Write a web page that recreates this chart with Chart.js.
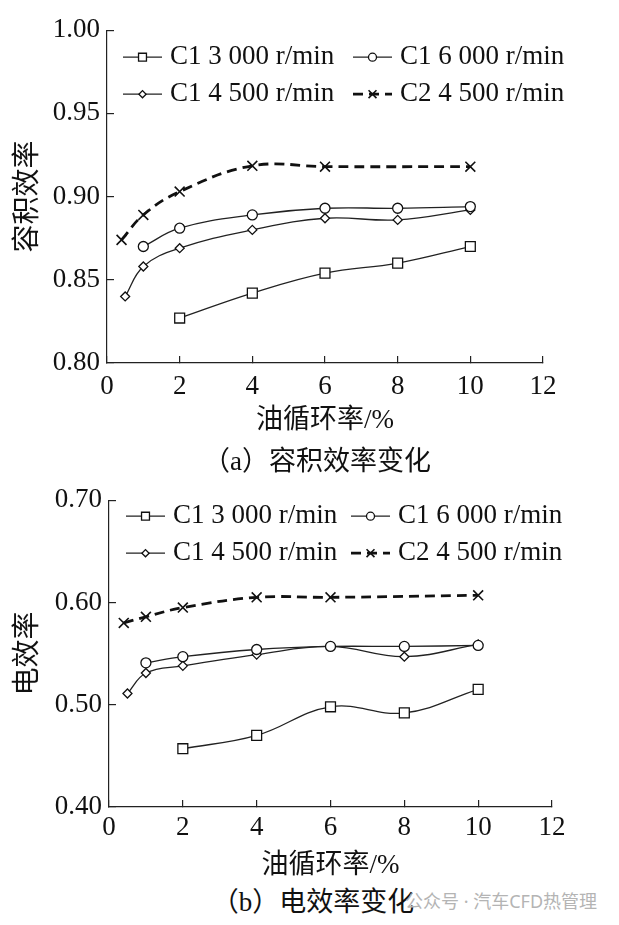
<!DOCTYPE html>
<html>
<head>
<meta charset="utf-8">
<script src="https://cdn.jsdelivr.net/npm/chart.js@4.4.1/dist/chart.umd.min.js"></script>
<style>
  body { margin: 0; background: #fff; }
  #page { position: relative; width: 619px; height: 925px; overflow: hidden; background: #fff; }
  #page canvas { position: absolute; left: 0; }
  .caption {
    position: absolute; left: 0; text-align: center; white-space: nowrap;
    font-family: 'Liberation Serif', 'Noto Sans CJK SC', serif;
    font-size: 27px; line-height: 32px; color: #111;
  }
  .mark {
    position: absolute; white-space: nowrap;
    font-family: 'Noto Sans', 'Noto Sans CJK SC', sans-serif;
    font-size: 18px; line-height: 28px; color: #b4b4b4;
  }
</style>
</head>
<body>
<div id="page">
  <canvas id="volChart" width="619" height="440" style="top:0px"></canvas>
  <canvas id="elecChart" width="619" height="415" style="top:470px"></canvas>
  <div class="caption" style="top:445px; width:634px;">（a）容积效率变化</div>
  <div class="caption" style="top:886px; width:626px;">（b）电效率变化</div>
  <div class="mark" style="left:405px; top:887px;">公众号 · 汽车CFD热管理</div>
</div>
<script>
// series labels
const seriesLabels = ['C1 3 000 r/min', 'C1 6 000 r/min', 'C1 4 500 r/min', 'C2 4 500 r/min'];

// oil circulation rate (%) for each series
const xC1_3000 = [2, 4, 6, 8, 10];
const xC1_6000 = [1, 2, 4, 6, 8, 10];
const xC1_4500 = [0.5, 1, 2, 4, 6, 8, 10];
const xC2_4500 = [0.4, 1, 2, 4, 6, 10];

// (a) volumetric efficiency
const volC1_3000 = [0.827, 0.842, 0.854, 0.860, 0.870];
const volC1_6000 = [0.870, 0.881, 0.889, 0.893, 0.893, 0.894];
const volC1_4500 = [0.840, 0.858, 0.869, 0.880, 0.887, 0.886, 0.892];
const volC2_4500 = [0.874, 0.889, 0.903, 0.9185, 0.918, 0.918];

// (b) electrical efficiency
const elecC1_3000 = [0.457, 0.470, 0.498, 0.492, 0.515];
const elecC1_6000 = [0.541, 0.547, 0.554, 0.557, 0.557, 0.558];
const elecC1_4500 = [0.511, 0.531, 0.538, 0.549, 0.557, 0.547, 0.559];
const elecC2_4500 = [0.580, 0.586, 0.595, 0.605, 0.605, 0.607];

const xTicks = [0, 2, 4, 6, 8, 10, 12];

const serif = "'Liberation Serif', serif";
const cjk = "'Liberation Serif', 'Noto Sans CJK SC', sans-serif";

function pts(xs, ys) {
  return xs.map((x, i) => ({ x: x, y: ys[i] }));
}

// legend drawn inside the plot area, two columns
const inPlotLegend = {
  id: 'inPlotLegend',
  afterDatasetsDraw(chart, args, opts) {
    const ctx = chart.ctx;
    const area = chart.chartArea;
    ctx.save();
    chart.data.datasets.forEach((ds, i) => {
      const x = area.left + opts.left + (i % 2) * opts.colGap;
      const y = area.top + opts.top + Math.floor(i / 2) * opts.rowGap;
      ctx.strokeStyle = ds.borderColor;
      ctx.lineWidth = ds.borderWidth;
      ctx.setLineDash(ds.borderDash || []);
      ctx.beginPath();
      ctx.moveTo(x, y);
      ctx.lineTo(x + opts.lineLen, y);
      ctx.stroke();
      ctx.setLineDash([]);
      ctx.fillStyle = ds.pointBackgroundColor;
      ctx.strokeStyle = ds.pointBorderColor;
      ctx.lineWidth = ds.pointBorderWidth;
      Chart.helpers.drawPoint(ctx, {
        pointStyle: ds.pointStyle, rotation: 0,
        radius: ds.pointRadius * 0.8, borderWidth: ds.pointBorderWidth
      }, x + opts.lineLen / 2, y);
      ctx.fillStyle = '#111';
      ctx.font = opts.font;
      ctx.textAlign = 'left';
      ctx.textBaseline = 'middle';
      ctx.fillText(ds.label, x + opts.textGap, y);
    });
    ctx.restore();
  }
};

function makeDatasets(v3000, v6000, v4500, vC2) {
  const base = {
    borderColor: '#222', borderWidth: 1.3, tension: 0.4, fill: false,
    pointBackgroundColor: '#fff', pointBorderColor: '#111', pointBorderWidth: 1.3
  };
  return [
    Object.assign({}, base, { label: seriesLabels[0], data: pts(xC1_3000, v3000), pointStyle: 'rect', pointRadius: 7 }),
    Object.assign({}, base, { label: seriesLabels[1], data: pts(xC1_6000, v6000), pointStyle: 'circle', pointRadius: 5 }),
    Object.assign({}, base, { label: seriesLabels[2], data: pts(xC1_4500, v4500), pointStyle: 'rectRot', pointRadius: 4.5 }),
    Object.assign({}, base, {
      label: seriesLabels[3], data: pts(xC2_4500, vC2), pointStyle: 'crossRot', pointRadius: 7,
      borderColor: '#111', borderWidth: 2.8, borderDash: [10, 6], pointBorderWidth: 1.6
    })
  ];
}

function makeChart(id, datasets, c) {
  const axisLine = { color: '#222', width: 1.2 };
  const tickMarks = { drawOnChartArea: false, drawTicks: true, tickLength: -7, color: '#222', lineWidth: 1.2 };
  return new Chart(document.getElementById(id), {
    type: 'line',
    data: { datasets: datasets },
    plugins: [inPlotLegend],
    options: {
      responsive: false,
      animation: false,
      devicePixelRatio: 1,
      layout: { padding: { left: 0, top: c.padTop, right: c.padRight, bottom: 0 } },
      plugins: {
        legend: { display: false },
        tooltip: { enabled: false },
        inPlotLegend: { left: c.legLeft, top: c.legTop, colGap: c.legColGap, rowGap: 37, lineLen: 39, textGap: 47, font: '27px ' + serif }
      },
      scales: {
        x: {
          type: 'linear', min: 0, max: 12,
          afterBuildTicks: s => { s.ticks = xTicks.map(v => ({ value: v })); },
          ticks: { padding: c.xPad, color: '#111', font: { family: serif, size: 27 }, callback: v => String(v) },
          grid: tickMarks, border: axisLine,
          title: { display: true, text: '油循环率/%', color: '#111', font: { family: cjk, size: 27 }, padding: { top: 0, bottom: 3 } },
          afterFit: s => { s.height = c.xHeight; }
        },
        y: {
          min: c.yMin, max: c.yMax,
          afterBuildTicks: s => { s.ticks = c.yTicks.map(v => ({ value: v })); },
          ticks: { padding: 14, color: '#111', font: { family: serif, size: 27 }, callback: v => v.toFixed(2) },
          grid: tickMarks, border: axisLine,
          title: { display: true, text: c.yTitle, color: '#111', font: { family: cjk, size: 28 }, padding: { top: 12, bottom: 0 } },
          afterFit: s => { s.width = c.yWidth; }
        }
      }
    }
  });
}

makeChart('volChart', makeDatasets(volC1_3000, volC1_6000, volC1_4500, volC2_4500), {
  yMin: 0.80, yMax: 1.00, yTicks: [0.80, 0.85, 0.90, 0.95, 1.00], yTitle: '容积效率',
  padTop: 21, padRight: 76, yWidth: 107, xHeight: 77, xPad: 15,
  legLeft: 16, legTop: 27, legColGap: 230
});

makeChart('elecChart', makeDatasets(elecC1_3000, elecC1_6000, elecC1_4500, elecC2_4500), {
  yMin: 0.40, yMax: 0.70, yTicks: [0.40, 0.50, 0.60, 0.70], yTitle: '电效率',
  padTop: 29, padRight: 67, yWidth: 109, xHeight: 78, xPad: 12,
  legLeft: 17, legTop: 16, legColGap: 225
});
</script>
</body>
</html>
